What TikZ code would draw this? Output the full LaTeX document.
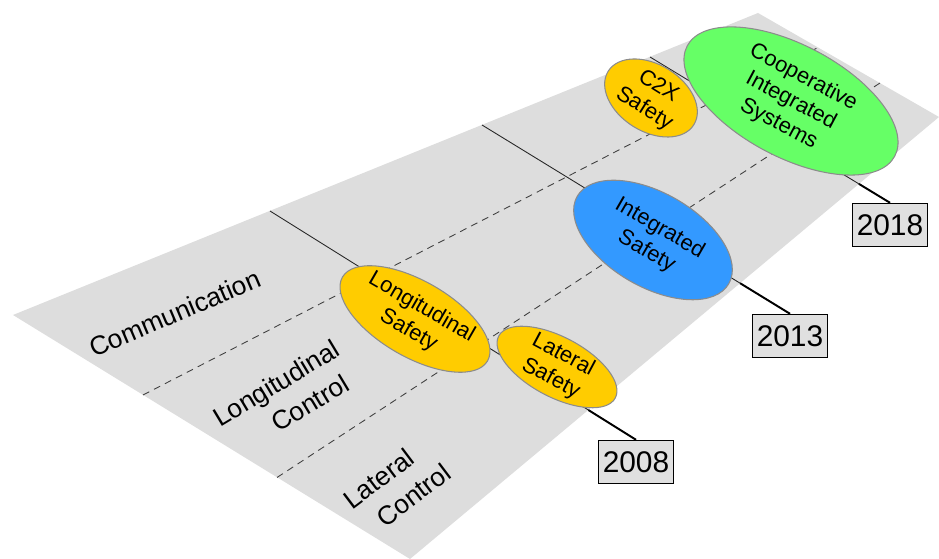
\documentclass[tikz,border=0pt]{standalone}
\usepackage{fontspec}
\setmainfont{Liberation Sans}
\usetikzlibrary{shapes.geometric}

\definecolor{plane}{HTML}{DDDDDD}
\definecolor{boxgray}{HTML}{E0E0E0}
\definecolor{rim}{HTML}{8C8C8C}
\definecolor{safeyellow}{HTML}{FFCC00}
\definecolor{safeblue}{HTML}{3399FF}
\definecolor{safegreen}{HTML}{66FF66}

\tikzset{
  safety/.style={ellipse, draw=rim, line width=0.6pt, inner xsep=0pt, inner ysep=-2pt,
    align=center, font=\fontsize{12.5}{15}\selectfont},
  rowlabel/.style={align=left, font=\fontsize{15}{19.5}\selectfont},
  yearbox/.style={draw, line width=0.8pt, fill=boxgray, minimum width=1.50cm,
    minimum height=0.86cm, inner sep=0pt, font=\fontsize{17}{17}\selectfont},
  rowline/.style={draw=black!75, line width=0.5pt, dash pattern=on 4pt off 3pt},
  yearline/.style={draw=black!85, line width=0.5pt},
  yeartail/.style={draw=black, line width=1.1pt}
}

\begin{document}
\begin{tikzpicture}
          \useasboundingbox (0,0) rectangle (18.78,11.18);

          \coordinate (planeW) at (0.26,4.88);
          \coordinate (planeN) at (15.16,10.92);
          \coordinate (planeE) at (18.78,8.84);
          \coordinate (planeS) at (8.20,0.00);
          \fill[plane] (planeW) -- (planeN) -- (planeE) -- (planeS) -- cycle;

          \coordinate (row1a) at (2.86,3.28);
          \coordinate (row1b) at (16.36,10.23);
          \coordinate (row2a) at (5.54,1.63);
          \coordinate (row2b) at (17.60,9.52);
          \draw[rowline] (row1a) -- (row1b);
          \draw[rowline] (row2a) -- (row2b);

          \coordinate (t08) at (5.40,6.96);
          \coordinate (t13) at (9.64,8.68);
          \coordinate (t18) at (13.00,10.04);

          \node[yearbox] (y08) at (12.72,1.94) {2008};
          \node[yearbox] (y13) at (15.80,4.46) {2013};
          \node[yearbox] (y18) at (17.80,6.68) {2018};

          \draw[yearline] (t08) -- (y08.north);
          \draw[yearline] (t13) -- (y13.north);
          \draw[yearline] (t18) -- (y18.north);
          \draw[yeartail] (intersection of t08--y08.north and planeE--planeS) -- (y08.north);
          \draw[yeartail] (intersection of t13--y13.north and planeE--planeS) -- (y13.north);
          \draw[yeartail] (intersection of t18--y18.north and planeE--planeS) -- (y18.north);

          \node[safety, fill=safeyellow, minimum width=3.12cm, minimum height=1.52cm, rotate=-30]
            (lonsafe) at (8.30,4.80) {Longitudinal\\Safety};
          \node[safety, fill=safeyellow, minimum width=2.64cm, minimum height=1.20cm, rotate=-28]
            (latsafe) at (11.14,3.84) {Lateral\\Safety};
          \node[safety, fill=safeblue, minimum width=3.50cm, minimum height=1.88cm, rotate=-30]
            (intsafe) at (13.06,6.38) {Integrated\\Safety};
          \node[safety, fill=safeyellow, minimum width=2.02cm, minimum height=1.34cm, rotate=-32]
            (c2xsafe) at (13.02,9.22) {C2X\\Safety};
          \node[safety, fill=safegreen, minimum width=4.70cm, minimum height=2.24cm, rotate=-28]
            (coopsys) at (15.82,9.16) {Cooperative\\Integrated\\Systems};

          \node[rowlabel, rotate=23] (comm) at (3.50,4.92) {Communication};
          \node[rowlabel, rotate=31] (loncon) at (5.70,3.22) {Longitudinal\\\hspace*{1.8em}Control};
          \node[rowlabel, rotate=37] (latcon) at (7.94,1.46) {Lateral\\\hspace*{0.6em}Control};

\end{tikzpicture}
\end{document}
